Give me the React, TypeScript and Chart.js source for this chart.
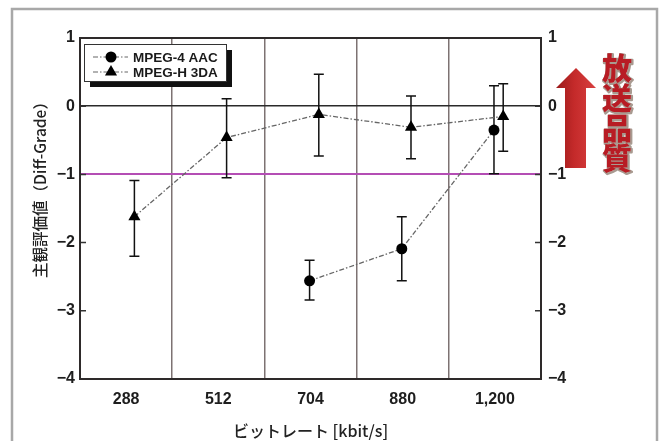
import React, { useEffect, useRef } from "react";
import { Chart, registerables } from "chart.js";

Chart.register(...registerables);

// ---- data ----
const categories = ["288", "512", "704", "880", "1,200"];
const h3daMean = [-1.62, -0.46, -0.12, -0.31, -0.15];
const h3daUpper = [-1.09, 0.11, 0.47, 0.15, 0.33];
const h3daLower = [-2.2, -1.05, -0.73, -0.77, -0.66];
const aacMean: (number | null)[] = [null, null, -2.56, -2.09, -0.35];
const aacUpper: (number | null)[] = [null, null, -2.26, -1.62, 0.3];
const aacLower: (number | null)[] = [null, null, -2.84, -2.56, -0.99];
const yMin = -4;
const yMax = 1;
const seriesNames = ["MPEG-4 AAC", "MPEG-H 3DA"];
const yTitle = "主観評価値（Diff-Grade）";
const xTitle = "ビットレート [kbit/s]";
const annotation = ["放", "送", "品", "質"];

// small horizontal offsets so the two series don't overlap (style only)
const AAC_OFFSET = -0.01;
const H3DA_OFFSET = 0.09;

const NUM_FONT = '"Liberation Sans", Arial, sans-serif';
const JP_FONT = '"Noto Sans CJK JP", "Liberation Sans", sans-serif';

const fmt = (v: number) => (v < 0 ? "\u2212" + Math.abs(v) : String(v));

function drawTriangle(ctx: CanvasRenderingContext2D, x: number, y: number, r: number) {
  ctx.beginPath();
  ctx.moveTo(x, y - r);
  ctx.lineTo(x + r * Math.sin(Math.PI / 3), y + r * 0.5);
  ctx.lineTo(x - r * Math.sin(Math.PI / 3), y + r * 0.5);
  ctx.closePath();
  ctx.fill();
}

const decorPlugin = {
  id: "decor",
  beforeDraw(chart: any) {
    const ctx = chart.ctx as CanvasRenderingContext2D;
    ctx.save();
    ctx.fillStyle = "#ffffff";
    ctx.fillRect(0, 0, chart.width, chart.height);
    ctx.strokeStyle = "#a8a8a8";
    ctx.lineWidth = 2.5;
    ctx.strokeRect(12, 9, 645, 445);
    ctx.restore();
  },
  beforeDatasetsDraw(chart: any) {
    const ctx = chart.ctx as CanvasRenderingContext2D;
    const a = chart.chartArea;
    const ys = chart.scales.y;
    ctx.save();
    // inner tick marks
    ctx.strokeStyle = "#333";
    ctx.lineWidth = 1.5;
    for (let v = yMin; v <= yMax; v++) {
      const py = ys.getPixelForValue(v);
      ctx.beginPath();
      ctx.moveTo(a.left, py);
      ctx.lineTo(a.left + 6, py);
      ctx.moveTo(a.right - 6, py);
      ctx.lineTo(a.right, py);
      ctx.stroke();
    }
    // plot frame
    ctx.strokeStyle = "#2e2a2a";
    ctx.lineWidth = 2;
    ctx.strokeRect(a.left, a.top, a.right - a.left, a.bottom - a.top);
    // error bars
    const groups = [
      { up: aacUpper, lo: aacLower, ds: 0 },
      { up: h3daUpper, lo: h3daLower, ds: 1 },
    ];
    ctx.strokeStyle = "#111";
    ctx.lineWidth = 1.5;
    groups.forEach((g) => {
      const meta = chart.getDatasetMeta(g.ds);
      const pts = chart.data.datasets[g.ds].data as any[];
      pts.forEach((p: any, k: number) => {
        const el = meta.data[k];
        const i = p.idx;
        const hi = g.up[i];
        const lo = g.lo[i];
        if (hi == null || lo == null) return;
        const x = el.x;
        const y1 = ys.getPixelForValue(hi);
        const y2 = ys.getPixelForValue(lo);
        ctx.beginPath();
        ctx.moveTo(x, y1);
        ctx.lineTo(x, y2);
        ctx.moveTo(x - 5, y1);
        ctx.lineTo(x + 5, y1);
        ctx.moveTo(x - 5, y2);
        ctx.lineTo(x + 5, y2);
        ctx.stroke();
      });
    });
    ctx.restore();
  },
  afterDraw(chart: any) {
    const ctx = chart.ctx as CanvasRenderingContext2D;
    ctx.save();
    // legend
    const lx = 84, ly = 44, lw = 142, lh = 37;
    ctx.fillStyle = "#111";
    ctx.fillRect(lx + 6, ly + 6, lw, lh);
    ctx.fillStyle = "#fff";
    ctx.fillRect(lx, ly, lw, lh);
    ctx.strokeStyle = "#333";
    ctx.lineWidth = 1;
    ctx.strokeRect(lx + 0.5, ly + 0.5, lw, lh);
    const rows = [57, 72];
    rows.forEach((ry, k) => {
      ctx.strokeStyle = "#666";
      ctx.lineWidth = 1.2;
      ctx.setLineDash([5, 2, 1.5, 2]);
      ctx.beginPath();
      ctx.moveTo(93, ry);
      ctx.lineTo(128, ry);
      ctx.stroke();
      ctx.setLineDash([]);
      ctx.fillStyle = "#000";
      if (k === 0) {
        ctx.beginPath();
        ctx.arc(111, ry, 5.5, 0, Math.PI * 2);
        ctx.fill();
      } else {
        drawTriangle(ctx, 111, ry, 7);
      }
      ctx.fillStyle = "#1a1a1a";
      ctx.font = "bold 13.5px " + NUM_FONT;
      ctx.textAlign = "left";
      ctx.textBaseline = "middle";
      ctx.fillText(seriesNames[k], 133, ry + 1);
    });
    // y-axis title
    ctx.save();
    ctx.translate(40, 186);
    ctx.rotate(-Math.PI / 2);
    ctx.fillStyle = "#222";
    ctx.font = "500 15.5px " + JP_FONT;
    ctx.textAlign = "center";
    ctx.textBaseline = "middle";
    ctx.fillText(yTitle, 0, 0);
    ctx.restore();
    // arrow
    const g = ctx.createLinearGradient(556, 0, 596, 0);
    g.addColorStop(0, "#9a1a1a");
    g.addColorStop(0.45, "#c42a2a");
    g.addColorStop(1, "#d84040");
    ctx.fillStyle = g;
    ctx.beginPath();
    ctx.moveTo(576, 68);
    ctx.lineTo(596, 88);
    ctx.lineTo(586, 88);
    ctx.lineTo(586, 168);
    ctx.lineTo(565, 168);
    ctx.lineTo(565, 88);
    ctx.lineTo(556, 88);
    ctx.closePath();
    ctx.fill();
    // vertical annotation text
    ctx.font = "900 30px " + JP_FONT;
    ctx.textAlign = "center";
    ctx.textBaseline = "middle";
    const cy = [68, 98, 128, 158];
    annotation.forEach((ch, k) => {
      ctx.lineWidth = 2.5;
      ctx.strokeStyle = "#a89a90";
      ctx.lineJoin = "round";
      ctx.strokeText(ch, 618, cy[k] + 1);
      ctx.fillStyle = "#b81c24";
      ctx.fillText(ch, 617, cy[k]);
    });
    ctx.restore();
  },
};

export default function App() {
  const ref = useRef<HTMLCanvasElement | null>(null);
  useEffect(() => {
    if (!ref.current) return;
    const aacData = categories
      .map((c, i) => ({ x: i + AAC_OFFSET, y: aacMean[i], idx: i }))
      .filter((p) => p.y != null);
    const h3daData = categories.map((c, i) => ({ x: i + H3DA_OFFSET, y: h3daMean[i], idx: i }));
    const chart = new Chart(ref.current, {
      type: "line",
      data: {
        datasets: [
          {
            label: seriesNames[0],
            data: aacData as any,
            xAxisID: "xv",
            yAxisID: "y",
            borderColor: "#666",
            borderWidth: 1.3,
            borderDash: [5, 2, 1.5, 2],
            pointStyle: "circle",
            pointRadius: 5.5,
            pointBackgroundColor: "#000",
            pointBorderColor: "#000",
            pointBorderWidth: 0,
          },
          {
            label: seriesNames[1],
            data: h3daData as any,
            xAxisID: "xv",
            yAxisID: "y",
            borderColor: "#666",
            borderWidth: 1.3,
            borderDash: [5, 2, 1.5, 2],
            pointStyle: "triangle",
            pointRadius: 7,
            pointBackgroundColor: "#000",
            pointBorderColor: "#000",
            pointBorderWidth: 0,
          },
        ],
      },
      options: {
        responsive: false,
        animation: false,
        devicePixelRatio: 1,
        layout: { padding: { left: 0, right: 0, top: 38, bottom: 0 } },
        plugins: { legend: { display: false }, tooltip: { enabled: false } },
        scales: {
          x: {
            type: "category",
            labels: categories,
            offset: true,
            position: "bottom",
            grid: { offset: true, color: "#7d7272", lineWidth: 1.5, drawTicks: false },
            border: { display: false },
            ticks: { color: "#1e1e1e", font: { size: 16, family: NUM_FONT, weight: "bold" }, padding: 11 },
            title: {
              display: true,
              text: xTitle,
              color: "#222",
              font: { size: 16, family: JP_FONT, weight: "500" },
              padding: { top: 4, bottom: 0 },
            },
            afterFit: (s: any) => {
              s.height = 62;
            },
          },
          xv: {
            type: "linear",
            display: false,
            min: -0.5,
            max: categories.length - 0.5,
          },
          y: {
            type: "linear",
            position: "left",
            min: yMin,
            max: yMax,
            ticks: {
              stepSize: 1,
              color: "#1e1e1e",
              font: { size: 16, family: NUM_FONT, weight: "bold" },
              padding: 5,
              callback: (v: any) => fmt(Number(v)),
            },
            grid: {
              drawTicks: false,
              color: (c: any) =>
                c.tick && c.tick.value === 0 ? "#2a2a2a" : c.tick && c.tick.value === -1 ? "#b44db4" : "rgba(0,0,0,0)",
              lineWidth: (c: any) => (c.tick && c.tick.value === -1 ? 2 : 1.5),
            },
            border: { display: false },
            afterFit: (s: any) => {
              s.width = 80;
            },
          },
          y2: {
            type: "linear",
            position: "right",
            min: yMin,
            max: yMax,
            ticks: {
              stepSize: 1,
              color: "#1e1e1e",
              font: { size: 16, family: NUM_FONT, weight: "bold" },
              padding: 7,
              callback: (v: any) => fmt(Number(v)),
            },
            grid: { display: false, drawTicks: false },
            border: { display: false },
            afterFit: (s: any) => {
              s.width = 119;
            },
          },
        },
      },
      plugins: [decorPlugin],
    });
    return () => chart.destroy();
  }, []);
  return (
    <div style={{ position: "fixed", left: 0, top: 0, width: 660, height: 441, background: "#fff" }}>
      <canvas ref={ref} width={660} height={441} style={{ display: "block" }} />
    </div>
  );
}
